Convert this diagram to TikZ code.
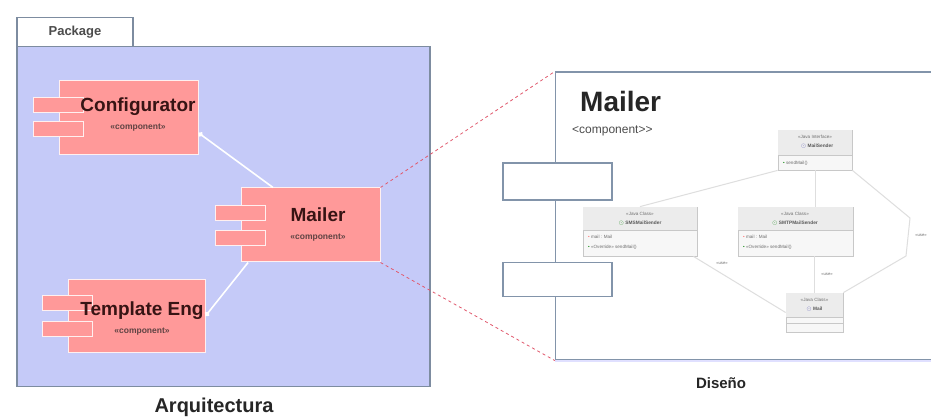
\documentclass[tikz,border=0pt]{standalone}
\usepackage{fontspec}
\setmainfont{Liberation Sans}
\usetikzlibrary{arrows.meta}
\definecolor{pkgblue}{RGB}{197,202,248}
\definecolor{pkgline}{RGB}{125,140,160}
\definecolor{salmon}{RGB}{255,153,153}
\definecolor{comptext}{RGB}{55,20,20}
\definecolor{rline}{RGB}{130,148,170}
\definecolor{clsline}{RGB}{200,200,200}
\definecolor{clshdr}{RGB}{236,236,236}
\definecolor{clstext}{RGB}{110,110,110}
\definecolor{assoc}{RGB}{222,222,222}
\definecolor{reddash}{RGB}{225,90,110}
\begin{document}
\begin{tikzpicture}[x=1pt,y=-1pt,
  pkg/.style={draw=pkgline,line width=1.3pt,fill=pkgblue,inner sep=0pt},
  pkgtab/.style={draw=pkgline,line width=1.3pt,fill=white,inner sep=0pt,font=\bfseries\fontsize{13}{15}\selectfont,text=black!70},
  compbox/.style={draw=white!85!salmon,line width=1pt,fill=salmon,inner sep=0pt},
  portbox/.style={draw=white!85!salmon,line width=1pt,fill=salmon,minimum width=50pt,minimum height=15pt,inner sep=0pt},
  ctitle/.style={font=\bfseries\fontsize{19}{21}\selectfont,text=comptext,inner sep=0pt},
  cstereo/.style={font=\bfseries\fontsize{8.5}{9}\selectfont,text=comptext!80,inner sep=0pt},
  wline/.style={draw=white,line width=1.6pt,-{Circle[length=5pt,fill=white]}},
  rdash/.style={draw=reddash,line width=0.8pt,dash pattern=on 3pt off 3pt},
  rbox/.style={draw=rline,line width=1.2pt,fill=white,inner sep=0pt},
  rport/.style={draw=rline,line width=1.2pt,fill=white,inner sep=0pt},
  cls/.style={draw=clsline,line width=0.8pt,fill=white!97!black,inner sep=0pt},
  ctext/.style={font=\fontsize{4.6}{5}\selectfont,text=clstext,inner sep=0pt},
  cbold/.style={font=\bfseries\fontsize{4.8}{5}\selectfont,text=clstext!80!black,inner sep=0pt},
  asl/.style={draw=assoc,line width=1pt},
  uselbl/.style={font=\fontsize{4.2}{5}\selectfont,text=clstext,inner sep=0pt},
  caption/.style={font=\bfseries\fontsize{20}{22}\selectfont,text=black!85,inner sep=0pt}
]
\useasboundingbox[fill=white] (0,0) rectangle (931,419);

% ---------- left: package ----------
\node[pkgtab,minimum width=116pt,minimum height=29pt] (tab) at (75,32) {Package};
\node[pkg,minimum width=413pt,minimum height=340pt] (pkgbody) at (223.5,216.5) {};

% Configurator
\node[compbox,minimum width=139pt,minimum height=74pt] (conf) at (128.5,118) {};
\node[portbox] (confp1) at (58,105) {};
\node[portbox] (confp2) at (58,129) {};
\node[ctitle] (conft) at (138,107) {Configurator};
\node[cstereo] (confs) at (138,128) {<<component>>};

% Mailer
\node[compbox,minimum width=139pt,minimum height=74pt] (mailer) at (310.5,225) {};
\node[portbox] (mailp1) at (240,213) {};
\node[portbox] (mailp2) at (240,238) {};
\node[ctitle] (mailt) at (318,215) {Mailer};
\node[cstereo] (mails) at (318,238) {<<component>>};

% Template Eng
\node[compbox,minimum width=137pt,minimum height=72pt] (templ) at (136.5,316) {};
\node[portbox] (templp1) at (67,303) {};
\node[portbox] (templp2) at (67,329) {};
\node[ctitle] (templt) at (142,311) {Template Eng};
\node[cstereo] (templs) at (142,332) {<<component>>};

% white connectors
\draw[wline] (mailer.135) -- (conf.-12);
\draw[wline] (mailer.-149) -- (templ.east);

\node[caption] (arq) at (214,407) {Arquitectura};

% ---------- right: design ----------
\node[rbox,minimum width=385pt,minimum height=288pt] (rb) at (748,216) {};
\draw[draw=blue!12,line width=2pt] (rb.south west) -- (rb.south east);
\node[rport,minimum width=109pt,minimum height=37pt] (rp1) at (557.5,181.5) {};
\node[rport,minimum width=109pt,minimum height=34pt] (rp2) at (557.5,279.5) {};
\node[font=\bfseries\fontsize{28}{30}\selectfont,text=black!85,inner sep=0pt,anchor=west] (rtitle) at (580,101) {Mailer};
\node[font=\fontsize{12}{14}\selectfont,text=black!70,inner sep=0pt,anchor=west] (rstereo) at (572,131) {<component{>}{>}};

% red dashed zoom lines
\draw[rdash] (mailer.north east) -- (rb.north west);
\draw[rdash] (mailer.south east) -- (rb.south west);

% classes
\node[cls,minimum width=74pt,minimum height=40pt] (iface) at (815,150) {};
\fill[clshdr] (778.4,130.4) rectangle (851.6,155);
\draw[clsline,line width=0.6pt] (778,155) -- (852,155);
\node[ctext] (ifst) at (815,137) {<<Java Interface>>};
\node[cbold] (ifnm) at (817,146) {\textcolor{blue!40!gray}{\(\odot\)} MailSender};
\node[ctext,anchor=west] (ifop) at (783,163) {\textcolor{green!50!black}{\textbullet}\ sendMail()};

\node[cls,minimum width=114pt,minimum height=49pt] (sms) at (640,231.5) {};
\fill[clshdr] (583.4,207.4) rectangle (696.6,230);
\draw[clsline,line width=0.6pt] (583,230) -- (697,230);
\node[ctext] (smsst) at (640,214) {<<Java Class>>};
\node[cbold] (smsnm) at (640,223) {\textcolor{green!50!black}{\(\odot\)} SMSMailSender};
\node[ctext,anchor=west] (smsat) at (588,237) {\textcolor{red!60}{\textbullet}\ mail : Mail};
\node[ctext,anchor=west] (smsop) at (588,247) {\textcolor{green!50!black}{\textbullet}\ <<Override>> sendMail()};

\node[cls,minimum width=115pt,minimum height=49pt] (smtp) at (795.5,231.5) {};
\fill[clshdr] (738.4,207.4) rectangle (852.6,230);
\draw[clsline,line width=0.6pt] (738,230) -- (853,230);
\node[ctext] (smtpst) at (795,214) {<<Java Class>>};
\node[cbold] (smtpnm) at (795,223) {\textcolor{green!50!black}{\(\odot\)} SMTPMailSender};
\node[ctext,anchor=west] (smtpat) at (743,237) {\textcolor{red!60}{\textbullet}\ mail : Mail};
\node[ctext,anchor=west] (smtpop) at (743,247) {\textcolor{green!50!black}{\textbullet}\ <<Override>> sendMail()};

\node[cls,minimum width=57pt,minimum height=39pt] (mail) at (814.5,312.5) {};
\fill[clshdr] (786.4,293.4) rectangle (842.6,317);
\draw[clsline,line width=0.6pt] (786,317) -- (843,317);
\draw[clsline,line width=0.6pt] (786,323) -- (843,323);
\node[ctext] (mailst) at (814.5,300) {<<Java Class>>};
\node[cbold] (mailnm) at (814.5,309) {\textcolor{blue!40!gray}{\(\odot\)} Mail};

% associations
\draw[asl] (iface.south west) -- (sms.north);
\draw[asl] (iface.south) -- (iface.south |- smtp.north);
\draw[asl] (iface.south east) -- (910,218) -- (906,256) -- (mail.north east);
\draw[asl] (sms.-25) -- (mail.west);
\draw[asl] (mail.north |- smtp.south) -- (mail.north);
\node[uselbl] (u1) at (722,263) {«use»};
\node[uselbl] (u2) at (827,274) {«use»};
\node[uselbl] (u3) at (921,235) {«use»};

\node[font=\bfseries\fontsize{15}{17}\selectfont,text=black!85,inner sep=0pt] (dis) at (721,383) {Diseño};
\end{tikzpicture}
\end{document}
